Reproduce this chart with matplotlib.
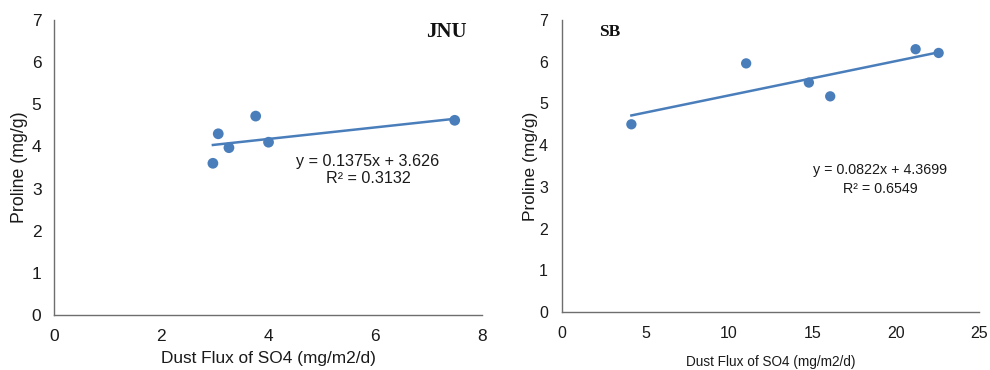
import matplotlib
matplotlib.use("Agg")
import matplotlib.pyplot as plt
import numpy as np

plt.rcParams['font.family'] = ['Liberation Sans', 'DejaVu Sans']

# Left panel (JNU)
jnu_x = [2.97, 3.07, 3.27, 3.77, 4.01, 7.49]
jnu_y = [3.60, 4.30, 3.97, 4.72, 4.10, 4.62]
jnu_slope, jnu_int = 0.1375, 3.626
jnu_eq = "y = 0.1375x + 3.626\nR² = 0.3132"

# Right panel (SB)
sb_x = [4.16, 11.04, 14.80, 16.08, 21.20, 22.58]
sb_y = [4.50, 5.96, 5.50, 5.17, 6.30, 6.21]
sb_slope, sb_int = 0.0822, 4.3699
sb_eq = "y = 0.0822x + 4.3699\nR² = 0.6549"

W, H = 990, 370
fig = plt.figure(figsize=(9.9, 3.7), dpi=100)

def px(l, r, t, b):
    return [l / W, 1 - b / H, (r - l) / W, (b - t) / H]

blue = '#4a7ebb'
spine_col = '#6e6e6e'
txt = '#1a1a1a'

def style(ax, xmax, xstep, fs, ypad):
    ax.set_ylim(0, 7)
    ax.set_xlim(0, xmax)
    ax.set_xticks(np.arange(0, xmax + 0.1, xstep))
    ax.set_yticks(range(0, 8))
    for s in ['top', 'right']:
        ax.spines[s].set_visible(False)
    for s in ['left', 'bottom']:
        ax.spines[s].set_color(spine_col)
        ax.spines[s].set_linewidth(1.0)
    ax.tick_params(length=0, labelsize=fs, colors=txt, pad=10)
    ax.tick_params(axis='y', pad=ypad)

ax1 = fig.add_axes(px(54, 482, 20, 315))
style(ax1, 8, 2, 12.5, 9)
ax1.scatter(jnu_x, jnu_y, s=60, color=blue, zorder=3, edgecolors='none')
xs = np.array([min(jnu_x), max(jnu_x)])
ax1.plot(xs, jnu_slope * xs + jnu_int, color=blue, lw=1.8)
ax1.text(5.87, 3.45, jnu_eq, ha='center', va='center', fontsize=11.6, color=txt, linespacing=1.15)
ax1.text(7.72, 6.72, 'JNU', ha='right', va='center', fontsize=15, fontweight='bold',
         family=['Liberation Serif', 'DejaVu Serif'], color='#111111')
ax1.set_xlabel('Dust Flux of SO4 (mg/m2/d)', fontsize=12.4, color=txt, labelpad=5)
ax1.set_ylabel('Proline (mg/g)', fontsize=12.8, color=txt, labelpad=2.5)

ax2 = fig.add_axes(px(562, 979, 20, 312))
style(ax2, 25, 5, 11.5, 10)
ax2.scatter(sb_x, sb_y, s=55, color=blue, zorder=3, edgecolors='none')
xs = np.array([min(sb_x), max(sb_x)])
ax2.plot(xs, sb_slope * xs + sb_int, color=blue, lw=1.8)
ax2.text(19.06, 3.18, sb_eq, ha='center', va='center', fontsize=10.3, color=txt, linespacing=1.5)
ax2.text(2.2, 6.71, 'SB', ha='left', va='center', fontsize=12.5, fontweight='bold',
         family=['Liberation Serif', 'DejaVu Serif'], color='#111111')
ax2.set_xlabel('Dust Flux of SO4 (mg/m2/d)', fontsize=9.8, color=txt, labelpad=10)
ax2.set_ylabel('Proline (mg/g)', fontsize=12.5, color=txt, labelpad=1.0)

fig.savefig('out.png', dpi=100)
